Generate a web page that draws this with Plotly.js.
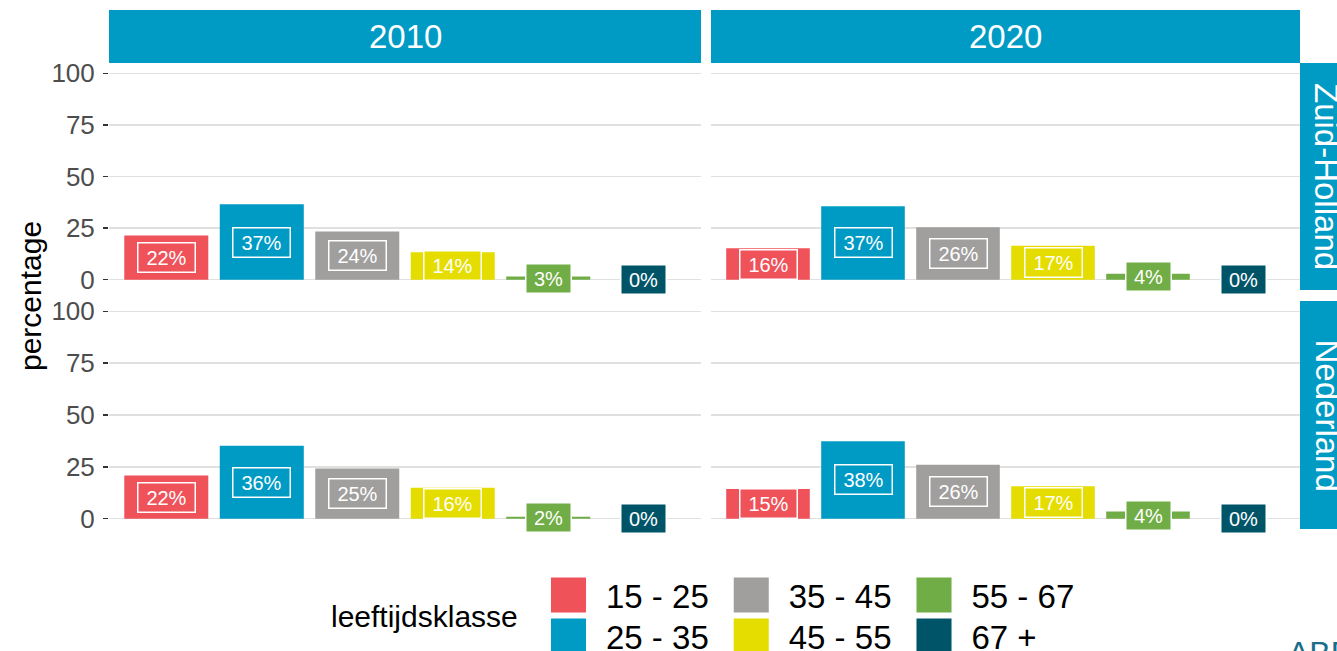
<!DOCTYPE html>
<html>
<head>
<meta charset="utf-8">
<script src="https://cdn.plot.ly/plotly-3.0.1.min.js"></script>
<style>
  html, body { margin: 0; padding: 0; background: #fff; }
  #chart { width: 1337px; height: 651px; }
  /* ggplot-like large legend keys */
  g.legendpoints path { transform: translate(37.5px, 0px) scale(2.92); }
</style>
</head>
<body>
<div id="chart"></div>
<script>
// ---- data ----
const ageClasses = ['15 - 25', '25 - 35', '35 - 45', '45 - 55', '55 - 67', '67 +'];
const classColors = ['#F0525A', '#009BC5', '#A09F9E', '#E5DD00', '#71AD46', '#005468'];
const years = ['2010', '2020'];
const regions = ['Zuid-Holland', 'Nederland'];

// bar heights (percentage)
const zuidHolland2010 = [21.4, 36.5, 23.4, 13.3, 1.6, 0];
const zuidHolland2020 = [15.2, 35.6, 25.4, 16.5, 2.9, 0];
const nederland2010 = [20.8, 35.2, 24.2, 14.9, 0.9, 0];
const nederland2020 = [14.3, 37.3, 26.0, 15.6, 3.4, 0];

// printed labels
const zuidHolland2010Labels = ['22%', '37%', '24%', '14%', '3%', '0%'];
const zuidHolland2020Labels = ['16%', '37%', '26%', '17%', '4%', '0%'];
const nederland2010Labels = ['22%', '36%', '25%', '16%', '2%', '0%'];
const nederland2020Labels = ['15%', '38%', '26%', '17%', '4%', '0%'];

const yTicks = [0, 25, 50, 75, 100];

// ---- layout helpers ----
const W = 1337, H = 651;
const FONT = 'Liberation Sans, Arial, sans-serif';
const stripColor = '#009BC5';

const panels = [
  {vals: zuidHolland2010, labels: zuidHolland2010Labels, xa: 'x',  ya: 'y',  col: 0, row: 0},
  {vals: zuidHolland2020, labels: zuidHolland2020Labels, xa: 'x2', ya: 'y2', col: 1, row: 0},
  {vals: nederland2010,   labels: nederland2010Labels,   xa: 'x3', ya: 'y3', col: 0, row: 1},
  {vals: nederland2020,   labels: nederland2020Labels,   xa: 'x4', ya: 'y4', col: 1, row: 1}
];

const colPx = [[109, 701], [711, 1300]];
const rowPx = [[63, 290], [301, 529]];
const xDom = c => [colPx[c][0] / W, colPx[c][1] / W];
const yDom = r => [1 - rowPx[r][1] / H, 1 - rowPx[r][0] / H];

// row-wise legend split to mimic ggplot column-major legend
const legendOf = i => (i % 2 === 0 ? 'legend' : 'legend2');

const traces = [];
const annotations = [];
panels.forEach((p, pi) => {
  ageClasses.forEach((cls, i) => {
    traces.push({
      type: 'bar',
      x: [cls],
      y: [p.vals[i]],
      name: cls,
      xaxis: p.xa,
      yaxis: p.ya,
      width: 0.88,
      marker: {color: classColors[i], line: {width: 0}},
      showlegend: pi === 0,
      legend: legendOf(i),
      legendrank: i,
      hoverinfo: 'skip'
    });
    annotations.push({
      xref: p.xa, yref: p.ya,
      x: cls, y: p.vals[i] / 2,
      text: p.labels[i],
      showarrow: false,
      font: {family: FONT, size: 20, color: '#FFFFFF'},
      bgcolor: classColors[i],
      bordercolor: '#FFFFFF',
      borderwidth: 1.5,
      borderpad: 1,
      width: p.labels[i].length * 12 + 18,
      height: 26,
      xanchor: 'center', yanchor: 'middle'
    });
  });
});

// strip labels
const shapes = [];
years.forEach((yr, c) => {
  shapes.push({type: 'rect', xref: 'paper', yref: 'paper',
    x0: colPx[c][0] / W, x1: colPx[c][1] / W, y0: 1 - 63 / H, y1: 1 - 10 / H,
    fillcolor: stripColor, line: {width: 0}, layer: 'above'});
  annotations.push({xref: 'paper', yref: 'paper',
    x: (colPx[c][0] + colPx[c][1]) / 2 / W, y: 1 - 36.5 / H,
    text: yr, showarrow: false, xanchor: 'center', yanchor: 'middle',
    font: {family: FONT, size: 33, color: '#FFFFFF'}});
});
regions.forEach((rg, r) => {
  shapes.push({type: 'rect', xref: 'paper', yref: 'paper',
    x0: 1300 / W, x1: 1353 / W, y0: yDom(r)[0], y1: yDom(r)[1],
    fillcolor: stripColor, line: {width: 0}, layer: 'above'});
  annotations.push({xref: 'paper', yref: 'paper',
    x: 1326.5 / W, y: (yDom(r)[0] + yDom(r)[1]) / 2,
    text: rg, showarrow: false, textangle: 90, xanchor: 'center', yanchor: 'middle',
    font: {family: FONT, size: 33, color: '#FFFFFF'}});
});

// axis title, legend title, logo
annotations.push({xref: 'paper', yref: 'paper', x: 30 / W, y: 1 - 296 / H,
  text: 'percentage', showarrow: false, textangle: -90, xanchor: 'center', yanchor: 'middle',
  font: {family: FONT, size: 30, color: '#000000'}});
annotations.push({xref: 'paper', yref: 'paper', x: 329 / W, y: 1 - 616 / H,
  text: 'leeftijdsklasse', showarrow: false, xanchor: 'left', yanchor: 'middle',
  font: {family: FONT, size: 30, color: '#000000'}});
annotations.push({xref: 'paper', yref: 'paper', x: 1286 / W, y: 1 - 633 / H,
  text: 'ABF', showarrow: false, xanchor: 'left', yanchor: 'top',
  font: {family: FONT, size: 32, color: '#1A6E8A'}});

function xAxis(c, anchor) {
  return {domain: xDom(c), anchor: anchor, type: 'category', categoryorder: 'array',
    categoryarray: ageClasses, range: [-0.6, 5.6], showticklabels: false, ticks: '',
    showgrid: false, zeroline: false, showline: false, fixedrange: true};
}
function yAxis(r, anchor, left) {
  return {domain: yDom(r), anchor: anchor, range: [-5, 105], tickmode: 'array',
    tickvals: yTicks, ticktext: yTicks.map(String), showticklabels: left,
    ticks: left ? 'outside' : '', ticklen: 5, tickwidth: 1.5, tickcolor: '#333333',
    ticklabelstandoff: 3,
    tickfont: {family: FONT, size: 26, color: '#4D4D4D'},
    showgrid: true, gridcolor: '#E0E0E0', gridwidth: 1.6, zeroline: false,
    showline: false, fixedrange: true};
}

const legendBase = {
  orientation: 'h', xanchor: 'left', yanchor: 'top',
  font: {family: FONT, size: 33, color: '#000000'},
  itemwidth: 65, bgcolor: 'rgba(0,0,0,0)', borderwidth: 0,
  itemclick: false, itemdoubleclick: false, traceorder: 'normal'
};

const layout = {
  width: W, height: H,
  margin: {l: 0, r: 0, t: 0, b: 0, autoexpand: false},
  paper_bgcolor: '#FFFFFF', plot_bgcolor: '#FFFFFF',
  font: {family: FONT},
  barmode: 'overlay',
  showlegend: true,
  xaxis: xAxis(0, 'y'), yaxis: yAxis(0, 'x', true),
  xaxis2: xAxis(1, 'y2'), yaxis2: yAxis(0, 'x2', false),
  xaxis3: xAxis(0, 'y3'), yaxis3: yAxis(1, 'x3', true),
  xaxis4: xAxis(1, 'y4'), yaxis4: yAxis(1, 'x4', false),
  legend: Object.assign({}, legendBase, {x: 531 / W, y: 1 - 567 / H}),
  legend2: Object.assign({}, legendBase, {x: 531 / W, y: 1 - 608 / H}),
  shapes: shapes,
  annotations: annotations
};

Plotly.newPlot('chart', traces, layout, {staticPlot: true, displayModeBar: false});
</script>
</body>
</html>
